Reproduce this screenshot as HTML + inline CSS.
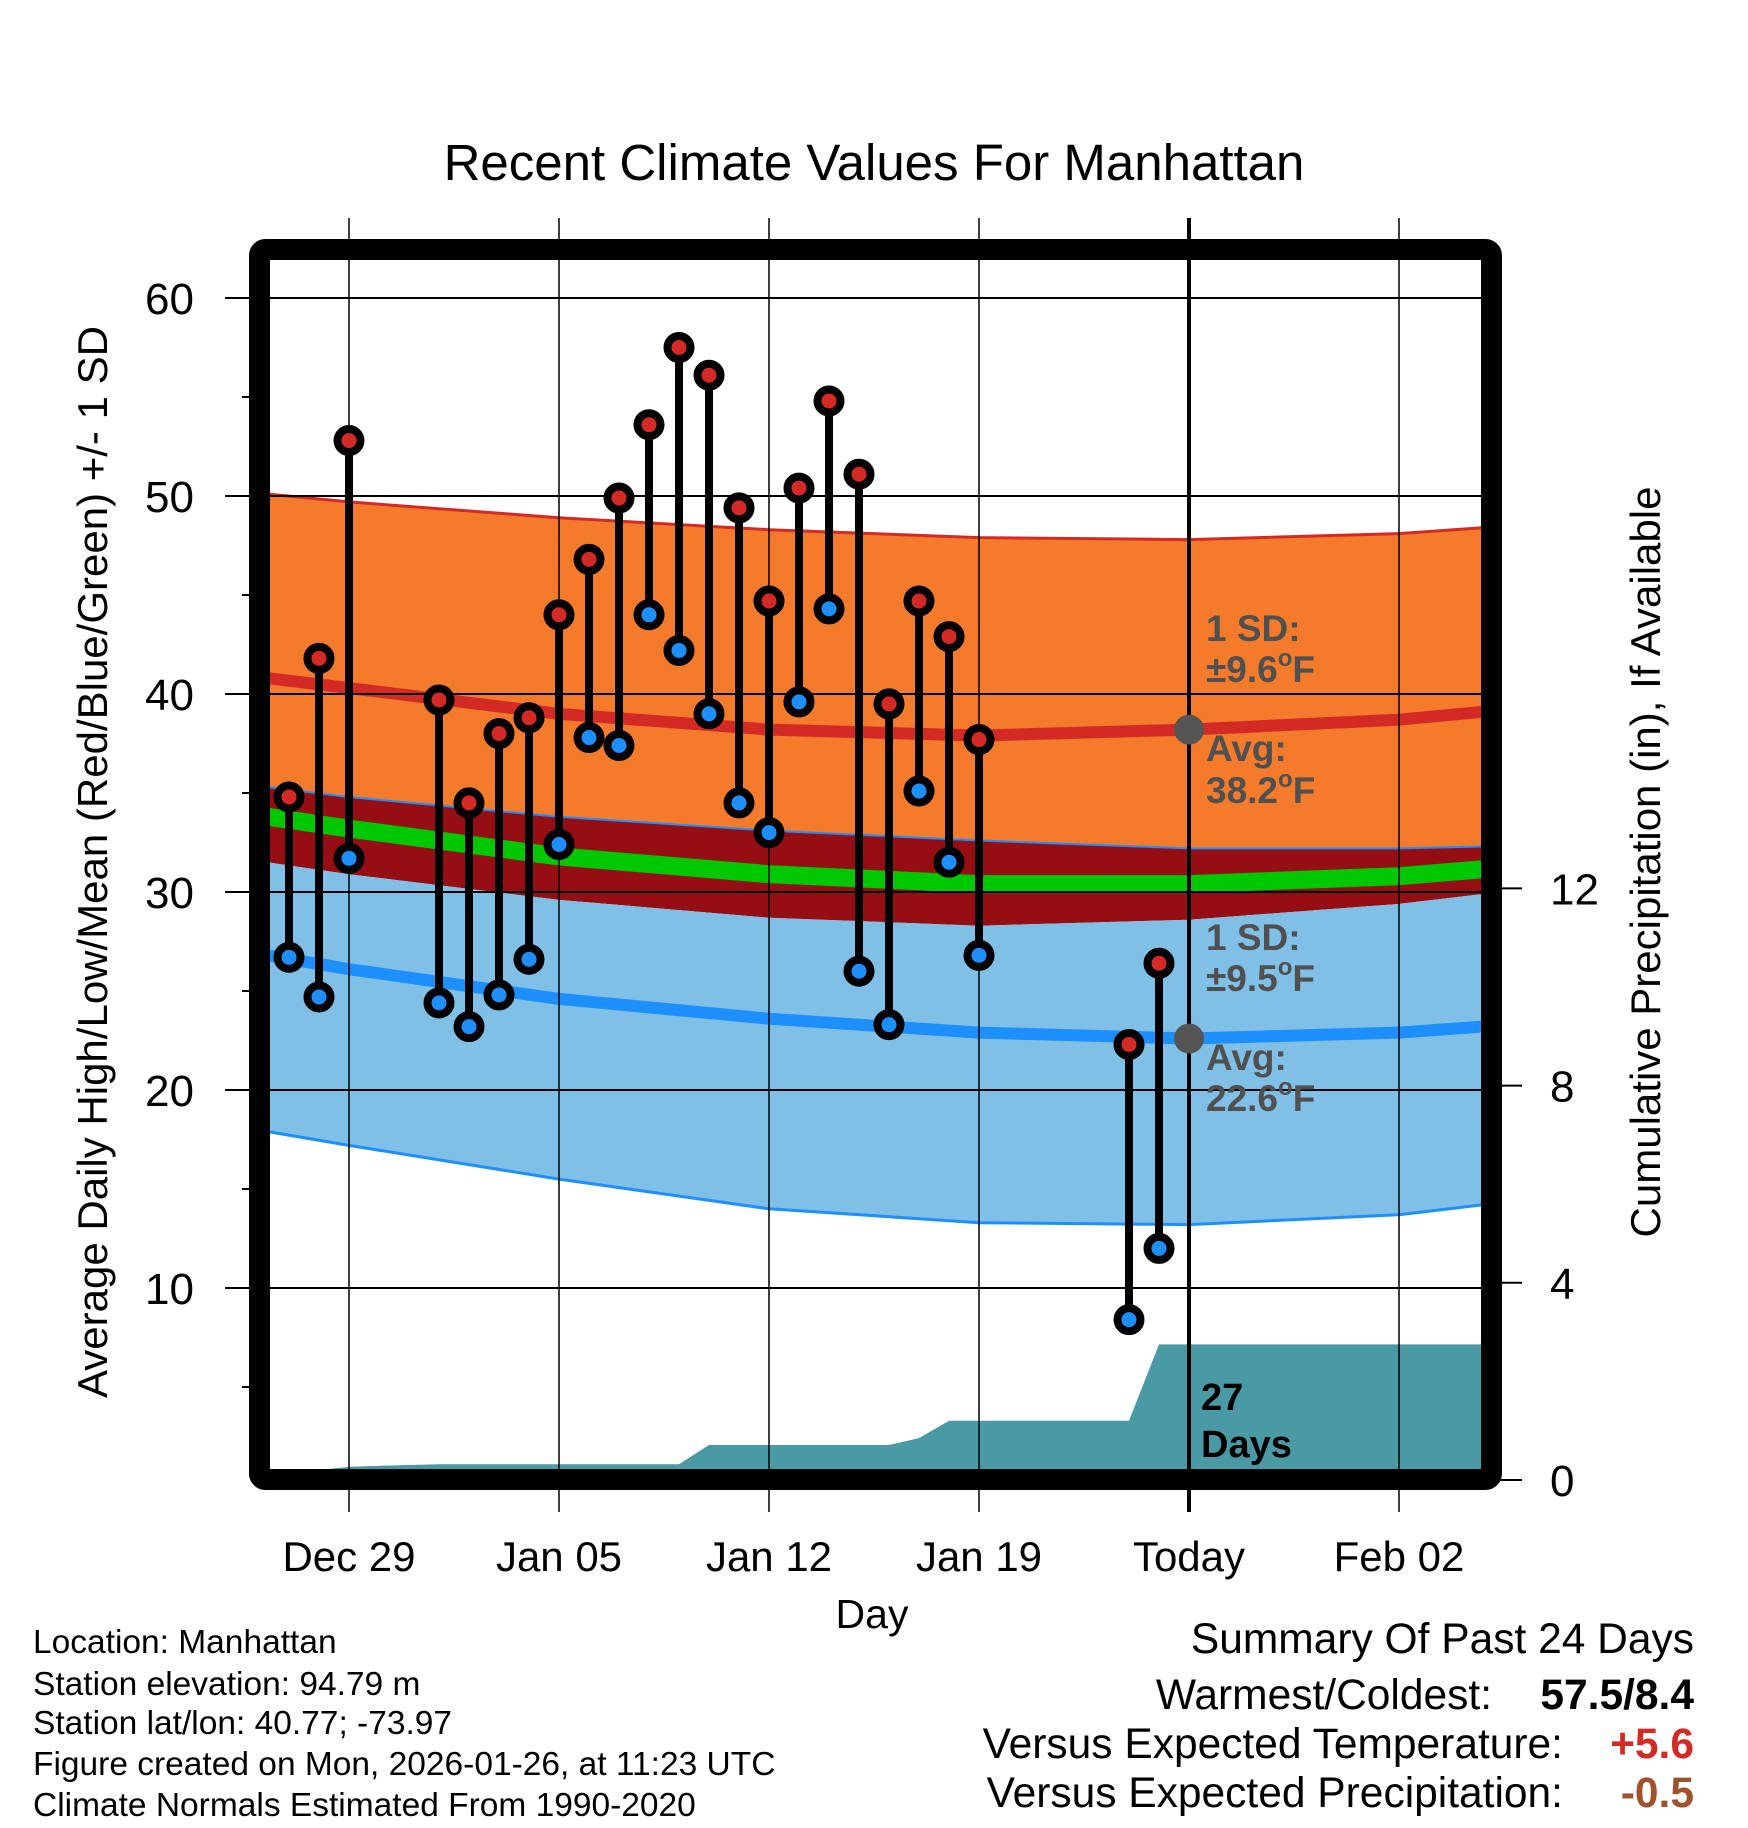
<!DOCTYPE html>
<html><head><meta charset="utf-8"><style>
html,body{margin:0;padding:0;background:#fff;}
svg{display:block;font-family:"Liberation Sans",Arial,sans-serif;}
</style></head><body>
<svg id="chart" width="1748" height="1828" viewBox="0 0 1748 1828" xmlns="http://www.w3.org/2000/svg">
<defs><clipPath id="plotclip"><rect x="270" y="260" width="1212" height="1209"/></clipPath></defs>
<text x="874" y="180" font-size="51" text-anchor="middle">Recent Climate Values For Manhattan</text>
<g id="bands" clip-path="url(#plotclip)"></g>
<g id="grid"></g>
<g id="marks"></g>
<g id="axes"></g>
<text transform="translate(107,862) rotate(-90)" font-size="42" text-anchor="middle">Average Daily High/Low/Mean (Red/Blue/Green) +/- 1 SD</text>
<text transform="translate(1660,862) rotate(-90)" font-size="42" text-anchor="middle">Cumulative Precipitation (in), If Available</text>
<text x="872" y="1628" font-size="41" text-anchor="middle">Day</text>
<g font-size="33.5">
<text x="33" y="1653">Location: Manhattan</text>
<text x="33" y="1695">Station elevation: 94.79 m</text>
<text x="33" y="1734">Station lat/lon: 40.77; -73.97</text>
<text x="33" y="1775">Figure created on Mon, 2026-01-26, at 11:23 UTC</text>
<text x="33" y="1816">Climate Normals Estimated From 1990-2020</text>
</g>
<g font-size="42.5" text-anchor="end">
<text x="1694" y="1653">Summary Of Past 24 Days</text>
<text x="1492" y="1709">Warmest/Coldest:</text>
<text x="1694" y="1709" font-weight="bold">57.5/8.4</text>
<text x="1563" y="1758">Versus Expected Temperature:</text>
<text x="1694" y="1758" font-weight="bold" fill="#d42a26">+5.6</text>
<text x="1563" y="1807">Versus Expected Precipitation:</text>
<text x="1694" y="1807" font-weight="bold" fill="#a0522d">-0.5</text>
</g>
</svg>
<script>
// data
const obsDays=[-2,-1,0,3,4,5,6,7,8,9,10,11,12,13,14,15,16,17,18,19,20,21,26,27];
const obsHigh=[34.8,41.8,52.8,39.7,34.5,38.0,38.8,44.0,46.8,49.9,53.6,57.5,56.1,49.4,44.7,50.4,54.8,51.1,39.5,44.7,42.9,37.7,22.3,26.4];
const obsLow=[26.7,24.7,31.7,24.4,23.2,24.8,26.6,32.4,37.8,37.4,44.0,42.2,39.0,34.5,33.0,39.6,44.3,26.0,23.3,35.1,31.5,26.8,8.4,12.0];
const normDays=[-2.7,0,7,14,21,28,35,37.8];
const highUpper=[50.1,49.7,48.9,48.3,47.9,47.8,48.1,48.4];
const highAvg=[40.8,40.3,39.0,38.2,37.9,38.2,38.7,39.1];
const highLower=[31.5,30.9,29.6,28.7,28.3,28.6,29.4,29.9];
const lowUpper=[35.3,34.8,33.8,33.1,32.6,32.2,32.2,32.3];
const lowAvg=[26.8,26.1,24.6,23.6,22.9,22.6,22.9,23.2];
const lowLower=[17.9,17.2,15.5,14.0,13.3,13.2,13.7,14.2];
const precipDays=[-2.7,-1,0,3,11,12,18,19,20,26,27,37.8];
const precipVals=[0.2,0.2,0.27,0.32,0.32,0.71,0.71,0.85,1.2,1.2,2.75,2.75];
const yTicks=[10,20,30,40,50,60];
const pTicks=[0,4,8,12];
const xTickDays=[0,7,14,21,28,35];
const xTickLabels=["Dec 29","Jan 05","Jan 12","Jan 19","Today","Feb 02"];

const X=d=>349+30*d;
const Y=v=>298+(60-v)*19.8;
const P=p=>1480-p*49.3;
const NS="http://www.w3.org/2000/svg";
function mk(parent,tag,attrs){const e=document.createElementNS(NS,tag);for(const k in attrs)e.setAttribute(k,attrs[k]);parent.appendChild(e);return e;}
const bands=document.getElementById('bands'),grid=document.getElementById('grid'),marks=document.getElementById('marks'),axes=document.getElementById('axes');

function line(arr){return arr.map((v,i)=>(i?'L':'M')+X(normDays[i]).toFixed(1)+' '+Y(v).toFixed(1)).join(' ');}
function area(top,bot){let s=line(top);for(let i=bot.length-1;i>=0;i--)s+=' L'+X(normDays[i]).toFixed(1)+' '+Y(bot[i]).toFixed(1);return s+' Z';}

let e;
e=mk(bands,'path',{d:area(highUpper,lowUpper),fill:'#f47b2c'});

e=mk(bands,'path',{d:area(lowUpper,highLower),fill:'#950e14'});

e=mk(bands,'path',{d:area(highLower,lowLower),fill:'#80bfe6'});

e=mk(bands,'path',{d:line(highUpper),fill:'none',stroke:'#d42a26','stroke-width':3});

e=mk(bands,'path',{d:line(lowUpper),fill:'none',stroke:'#1e8fff','stroke-width':2});

e=mk(bands,'path',{d:line(lowLower),fill:'none',stroke:'#1e8fff','stroke-width':3});

const meanArr=highAvg.map((v,i)=>(v+lowAvg[i])/2);
e=mk(bands,'path',{d:line(meanArr),fill:'none',stroke:'#00c800','stroke-width':18});

e=mk(bands,'path',{d:line(highAvg),fill:'none',stroke:'#d42a26','stroke-width':12});

e=mk(bands,'path',{d:line(lowAvg),fill:'none',stroke:'#1e8fff','stroke-width':12});

// precip
let pd=precipDays.map((d,i)=>(i?'L':'M')+X(d).toFixed(1)+' '+P(precipVals[i]).toFixed(1)).join(' ');
pd+=' L'+X(precipDays[precipDays.length-1])+' 1480 L'+X(precipDays[0])+' 1480 Z';
e=mk(bands,'path',{d:pd,fill:'#4a9aa5'});


// grid
yTicks.forEach(v=>{
 const g=mk(grid,'line',{x1:225,x2:1482,y1:Y(v),y2:Y(v),stroke:'#000','stroke-width':2});
 
 const t=mk(axes,'text',{x:194,y:Y(v)+16,'font-size':44,'text-anchor':'end'});t.textContent=v;
 
});
[5,15,25,35,45,55].forEach(v=>{
 const g=mk(axes,'line',{x1:242,x2:250,y1:Y(v),y2:Y(v),stroke:'#000','stroke-width':2});
 
});
pTicks.forEach(p=>{
 const g=mk(axes,'line',{x1:1495,x2:1522,y1:P(p),y2:P(p),stroke:'#000','stroke-width':2});
 
 const t=mk(axes,'text',{x:1550,y:P(p)+16,'font-size':44});t.textContent=p;
 
});
xTickDays.forEach((d,i)=>{
 const g=mk(grid,'line',{x1:X(d),x2:X(d),y1:218,y2:1512,stroke:'#000','stroke-width':i==4?4:1.5});
 
 const t=mk(axes,'text',{x:X(d),y:1571,'font-size':42,'text-anchor':'middle'});t.textContent=xTickLabels[i];
 
});
// stems and markers
obsDays.forEach((d,i)=>{
 const s=mk(marks,'line',{x1:X(d),x2:X(d),y1:Y(obsHigh[i]),y2:Y(obsLow[i]),stroke:'#000','stroke-width':8});
 
});
obsDays.forEach((d,i)=>{
 const h=mk(marks,'circle',{cx:X(d),cy:Y(obsHigh[i]),r:11.5,fill:'#d42a26',stroke:'#000','stroke-width':8});
 
 const l=mk(marks,'circle',{cx:X(d),cy:Y(obsLow[i]),r:11.5,fill:'#1e8fff',stroke:'#000','stroke-width':8});
 
});
// today avg dots
[[38.2,'high-avg-dot'],[22.6,'low-avg-dot']].forEach(a=>{
 const c=mk(marks,'circle',{cx:X(28),cy:Y(a[0]),r:15,fill:'#555'});
 
});
// annotations
[["1 SD:",629,false],["\u00b19.6",670,true],["Avg:",749,false],["38.2",791,true],["1 SD:",938,false],["\u00b19.5",979,true],["Avg:",1058,false],["22.6",1099,true]].forEach(a=>{
 const t=mk(marks,'text',{x:1206,y:a[1]+12,'font-size':37,'font-weight':'bold',fill:'#505050'});
 
 t.appendChild(document.createTextNode(a[0]));
 if(a[2]){
  const s=mk(t,'tspan',{dy:-16,'font-size':24});s.textContent='o';
  const f2=mk(t,'tspan',{dy:16});f2.textContent='F';
 }
});
[["27",1410],["Days",1457]].forEach(a=>{
 const t=mk(marks,'text',{x:1201,y:a[1],'font-size':38,'font-weight':'bold',fill:'#000'});t.textContent=a[0];
 
});
// frame
const f=mk(axes,'rect',{x:259.5,y:249.5,width:1232,height:1230,fill:'none',stroke:'#000','stroke-width':21,rx:6});

</script>
</body></html>
